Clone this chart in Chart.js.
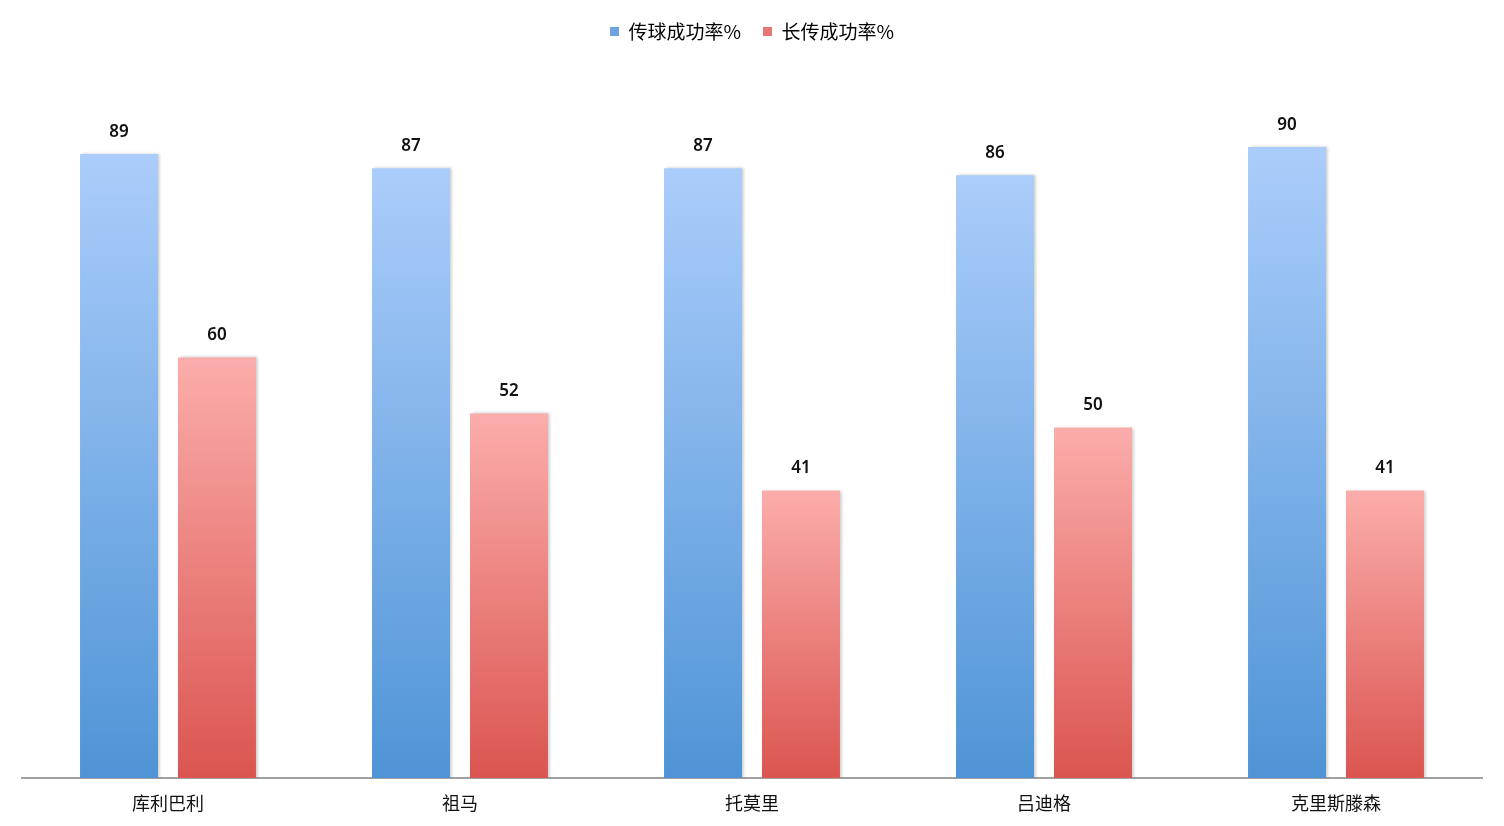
<!DOCTYPE html>
<html>
<head>
<meta charset="utf-8">
<script src="https://cdn.jsdelivr.net/npm/chart.js@4/dist/chart.umd.min.js"></script>
<style>
    html, body { margin: 0; padding: 0; background: #fff; }
    #wrap { width: 1504px; height: 826px; }
</style>
</head>
<body>
<div id="wrap"><canvas id="passChart"></canvas></div>
<script>
    // data
    const players = ['库利巴利', '祖马', '托莫里', '吕迪格', '克里斯滕森'];
    const passRate = [89, 87, 87, 86, 90];
    const longPassRate = [60, 52, 41, 50, 41];
    const seriesNames = ['传球成功率%', '长传成功率%'];

    const FONT = '"Noto Sans CJK SC", "Noto Sans", sans-serif';

    // vertical gradient over each bar's own height
    function barGradient(topColor, bottomColor, flat) {
        return function (c) {
            const chart = c.chart;
            const y = chart.scales.y;
            if (!chart.chartArea || !y || c.raw === undefined) return flat;
            const top = y.getPixelForValue(c.raw);
            const bottom = y.getPixelForValue(0);
            const g = chart.ctx.createLinearGradient(0, top, 0, bottom);
            g.addColorStop(0, topColor);
            g.addColorStop(1, bottomColor);
            return g;
        };
    }

    // extra room between legend and bars
    const legendGap = {
        id: 'legendGap',
        afterInit(chart) {
            const fit = chart.legend.fit;
            chart.legend.fit = function () {
                fit.call(this);
                this.height += 26;
            };
        }
    };

    // soft shadow to the right of the bars
    const barShadow = {
        id: 'barShadow',
        beforeDatasetDraw(chart) {
            const ctx = chart.ctx;
            ctx.save();
            ctx.shadowColor = 'rgba(0,0,0,0.22)';
            ctx.shadowOffsetX = 2;
            ctx.shadowOffsetY = 0;
            ctx.shadowBlur = 3;
        },
        afterDatasetDraw(chart) {
            chart.ctx.restore();
        }
    };

    // value labels above bars
    const valueLabels = {
        id: 'valueLabels',
        afterDatasetsDraw(chart) {
            const ctx = chart.ctx;
            ctx.save();
            ctx.font = '600 17px "Noto Sans", sans-serif';
            ctx.fillStyle = '#111';
            ctx.textAlign = 'center';
            ctx.textBaseline = 'middle';
            chart.data.datasets.forEach((ds, i) => {
                chart.getDatasetMeta(i).data.forEach((bar, j) => {
                    ctx.fillText(ds.data[j], bar.x, bar.y - 22);
                });
            });
            ctx.restore();
        }
    };

    new Chart(document.getElementById('passChart'), {
        type: 'bar',
        data: {
            labels: players,
            datasets: [{
                label: seriesNames[0],
                data: passRate,
                backgroundColor: barGradient('#abcdfb', '#4f94d6', '#7aaee8'),
                legendColor: '#6fa2e0'
            }, {
                label: seriesNames[1],
                data: longPassRate,
                backgroundColor: barGradient('#fbadab', '#db5550', '#ec8580'),
                legendColor: '#e57873'
            }]
        },
        options: {
            responsive: true,
            maintainAspectRatio: false,
            animation: false,
            categoryPercentage: 0.671,
            barPercentage: 0.796,
            layout: { padding: { left: 22, right: 22, top: 0, bottom: 0 } },
            plugins: {
                legend: {
                    position: 'top',
                    labels: {
                        boxWidth: 9,
                        boxHeight: 9,
                        padding: 22,
                        color: '#111',
                        font: { family: FONT, size: 19 },
                        generateLabels(chart) {
                            return chart.data.datasets.map((ds, i) => ({
                                text: ds.label,
                                fillStyle: ds.legendColor,
                                strokeStyle: ds.legendColor,
                                lineWidth: 0,
                                datasetIndex: i,
                                hidden: false
                            }));
                        }
                    }
                },
                tooltip: { enabled: false }
            },
            scales: {
                x: {
                    grid: { display: false, drawTicks: false },
                    border: { color: '#a0a0a0', width: 2 },
                    ticks: {
                        color: '#111',
                        padding: 14,
                        font: { family: FONT, size: 18 }
                    },
                    afterFit(scale) { scale.height = 48; }
                },
                y: {
                    display: false,
                    min: 0,
                    max: 100
                }
            }
        },
        plugins: [legendGap, barShadow, valueLabels]
    });
</script>
</body>
</html>
